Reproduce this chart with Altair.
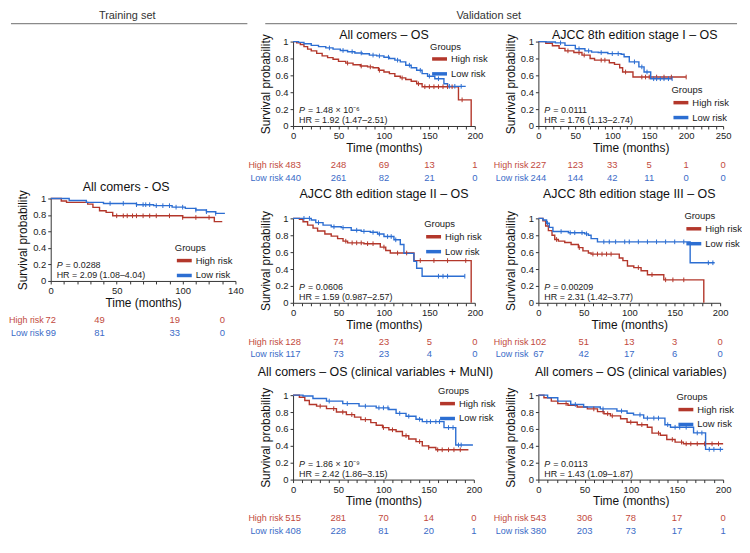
import altair as alt
import pandas as pd

FONT = "Liberation Sans"
RED = "#B3372B"
BLUE = "#2C6ED2"
RED_TXT = "#C24A3D"
BLUE_TXT = "#3A6BC7"
GROUPS = ["High risk", "Low risk"]

# ---------------- Training set: All comers - OS ----------------
tr_hi_t = [0, 8, 12, 28, 32, 37, 42, 47, 100, 124, 130]
tr_hi_s = [1.0, 0.97, 0.953, 0.932, 0.893, 0.852, 0.832, 0.79, 0.77, 0.72, 0.72]
tr_lo_t = [0, 14, 27, 40, 65, 78, 92, 102, 110, 118, 125, 132]
tr_lo_s = [1.0, 0.975, 0.953, 0.94, 0.925, 0.913, 0.895, 0.88, 0.86, 0.84, 0.82, 0.82]
tr_hi_c = [50, 55, 58, 62, 65, 70, 75, 80, 90, 100, 110, 120]
tr_lo_c = [45, 55, 65, 70, 72, 75, 80, 85, 90, 95, 100, 110, 118, 125]
tr_risk_t = [0, 37, 94, 130]
tr_risk_hi = [72, 49, 19, 0]
tr_risk_lo = [99, 81, 33, 0]

# ---------------- Validation: All comers - OS ----------------
ac_hi_t = [0, 4, 8, 12, 16, 20, 26, 32, 38, 44, 50, 58, 66, 74, 82, 88, 94, 100, 106, 112, 118, 124, 130, 136, 142, 182, 196]
ac_hi_s = [1.0, 0.985, 0.965, 0.94, 0.91, 0.89, 0.86, 0.83, 0.81, 0.79, 0.765, 0.745, 0.725, 0.71, 0.70, 0.69, 0.66, 0.64, 0.62, 0.59, 0.57, 0.55, 0.53, 0.50, 0.465, 0.31, 0.0]
ac_lo_t = [0, 6, 12, 20, 28, 36, 44, 52, 60, 68, 76, 84, 92, 100, 106, 112, 118, 124, 130, 136, 142, 148, 156, 166, 170, 190]
ac_lo_s = [1.0, 0.99, 0.975, 0.955, 0.94, 0.925, 0.91, 0.895, 0.88, 0.865, 0.855, 0.84, 0.83, 0.815, 0.80, 0.78, 0.76, 0.72, 0.69, 0.66, 0.62, 0.59, 0.56, 0.50, 0.47, 0.47]
ac_hi_c = [60, 75, 85, 95, 120, 138, 145, 150, 155, 160, 165, 170, 175, 186]
ac_lo_c = [40, 55, 65, 75, 88, 95, 105, 115, 128, 140, 150, 160, 172, 178, 185]
ac_risk_t = [0, 50, 100, 150, 200]
ac_risk_hi = [483, 248, 69, 13, 1]
ac_risk_lo = [440, 261, 82, 21, 0]

# ---------------- Stage I ----------------
s1_hi_t = [0, 10, 19, 28, 36, 48, 59, 70, 76, 96, 103, 110, 114, 128, 200]
s1_hi_s = [1.0, 0.98, 0.95, 0.92, 0.89, 0.87, 0.84, 0.80, 0.78, 0.75, 0.73, 0.69, 0.64, 0.58, 0.58]
s1_lo_t = [0, 10, 23, 36, 50, 63, 72, 81, 94, 112, 116, 123, 136, 143, 152, 181]
s1_lo_s = [1.0, 0.995, 0.985, 0.955, 0.915, 0.89, 0.875, 0.87, 0.857, 0.85, 0.82, 0.76, 0.70, 0.64, 0.56, 0.56]
s1_hi_c = [40, 55, 62, 85, 90, 118, 140, 145, 150, 160, 170, 180, 200]
s1_lo_c = [30, 55, 68, 85, 100, 108, 130, 140, 147, 156, 160, 165, 170, 176, 181]
s1_risk_t = [0, 50, 100, 150, 200, 250]
s1_risk_hi = [227, 123, 33, 5, 1, 0]
s1_risk_lo = [244, 144, 42, 11, 0, 0]

# ---------------- Stage II ----------------
s2_hi_t = [0, 7, 11, 16, 22, 27, 35, 42, 49, 55, 60, 78, 96, 102, 107, 133, 196]
s2_hi_s = [1.0, 0.99, 0.96, 0.92, 0.885, 0.85, 0.815, 0.79, 0.76, 0.73, 0.71, 0.70, 0.66, 0.62, 0.59, 0.50, 0.0]
s2_lo_t = [0, 20, 25, 33, 42, 53, 64, 75, 85, 93, 100, 111, 118, 122, 133, 136, 142, 189]
s2_lo_s = [1.0, 0.98, 0.95, 0.92, 0.90, 0.89, 0.86, 0.846, 0.835, 0.815, 0.785, 0.746, 0.69, 0.585, 0.49, 0.41, 0.315, 0.315]
s2_hi_c = [58, 65, 70, 75, 82, 88, 100, 115, 125, 140, 155, 170, 190]
s2_lo_c = [12, 18, 28, 45, 55, 70, 78, 88, 95, 104, 108, 113, 160, 165, 170, 189]
s2_risk_t = [0, 50, 100, 150, 200]
s2_risk_hi = [128, 74, 23, 5, 0]
s2_risk_lo = [117, 73, 23, 4, 0]

# ---------------- Stage III ----------------
s3_hi_t = [0, 5, 8, 11, 15, 18, 22, 29, 36, 44, 49, 55, 58, 89, 93, 98, 105, 113, 120, 138, 182]
s3_hi_s = [1.0, 0.97, 0.91, 0.855, 0.80, 0.75, 0.73, 0.714, 0.69, 0.653, 0.615, 0.59, 0.577, 0.53, 0.50, 0.436, 0.417, 0.379, 0.333, 0.272, 0.0]
s3_lo_t = [0, 5, 9, 12, 16, 33, 51, 55, 58, 65, 167, 194]
s3_lo_s = [1.0, 0.98, 0.943, 0.893, 0.844, 0.83, 0.817, 0.80, 0.76, 0.722, 0.474, 0.474]
s3_hi_c = [20, 45, 60, 65, 70, 75, 80, 110, 125, 140, 148, 160]
s3_lo_c = [10, 25, 35, 40, 48, 53, 72, 78, 85, 95, 100, 110, 120, 130, 140, 150, 160, 187, 192]
s3_risk_t = [0, 50, 100, 150, 200]
s3_risk_hi = [102, 51, 13, 3, 0]
s3_risk_lo = [67, 42, 17, 6, 0]

# ---------------- Clinical variables + MuNI ----------------
cm_hi_t = [0, 7, 13, 18, 26, 37, 48, 59, 68, 75, 86, 92, 99, 106, 114, 121, 128, 136, 143, 150, 158, 194]
cm_hi_s = [1.0, 0.976, 0.937, 0.89, 0.87, 0.84, 0.80, 0.77, 0.74, 0.71, 0.675, 0.643, 0.616, 0.59, 0.57, 0.52, 0.48, 0.45, 0.40, 0.38, 0.353, 0.353]
cm_lo_t = [0, 11, 22, 37, 55, 73, 92, 106, 114, 125, 136, 143, 167, 180, 199]
cm_lo_s = [1.0, 0.99, 0.96, 0.93, 0.90, 0.87, 0.85, 0.83, 0.784, 0.75, 0.714, 0.686, 0.616, 0.41, 0.41]
cm_hi_c = [30, 45, 55, 65, 80, 100, 110, 125, 140, 150, 160, 165, 172, 178, 185]
cm_lo_c = [40, 60, 80, 95, 100, 105, 118, 128, 140, 148, 152, 158, 162, 172, 177, 183, 186]
cm_risk_t = [0, 50, 100, 150, 200]
cm_risk_hi = [515, 281, 70, 14, 0]
cm_risk_lo = [408, 228, 81, 20, 1]

# ---------------- Clinical variables ----------------
cv_hi_t = [0, 6, 14, 21, 32, 42, 53, 64, 71, 78, 89, 96, 107, 118, 123, 132, 139, 148, 157, 200]
cv_hi_s = [1.0, 0.97, 0.93, 0.90, 0.88, 0.86, 0.837, 0.805, 0.78, 0.755, 0.72, 0.68, 0.65, 0.62, 0.55, 0.525, 0.475, 0.444, 0.424, 0.424]
cv_lo_t = [0, 10, 21, 35, 49, 67, 85, 96, 103, 114, 137, 143, 168, 181, 200]
cv_lo_s = [1.0, 0.97, 0.93, 0.89, 0.86, 0.837, 0.813, 0.786, 0.767, 0.728, 0.65, 0.62, 0.553, 0.358, 0.358]
cv_hi_c = [30, 60, 70, 75, 80, 100, 112, 130, 145, 155, 160, 165, 172, 180, 188, 195]
cv_lo_c = [40, 70, 90, 110, 118, 125, 130, 140, 148, 153, 160, 172, 177, 185, 190, 197]
cv_risk_t = [0, 50, 100, 150, 200]
cv_risk_hi = [543, 306, 78, 17, 0]
cv_risk_lo = [380, 203, 73, 17, 1]

CELL_H = 85


def surv_at(ts, ss, c):
    v = ss[0]
    for t, s in zip(ts, ss):
        if t <= c:
            v = s
    return v


def km_panel(title, hi_t, hi_s, lo_t, lo_s, hi_c, lo_c, risk_t, risk_hi, risk_lo,
             p_txt, hr_txt, xmax, xlabels, width, leg_x, leg_y, title_offset,
             title_dx=0, plot_w=None, plot_top=0, plot_h=CELL_H, lab_dx=-10):
    plot_w = plot_w or width
    bottom = plot_top + plot_h
    curve_df = pd.DataFrame({
        "t": hi_t + lo_t,
        "s": hi_s + lo_s,
        "group": ["High risk"] * len(hi_t) + ["Low risk"] * len(lo_t),
    })
    rows = []
    for g, ts, ss, cs in (("High risk", hi_t, hi_s, hi_c), ("Low risk", lo_t, lo_s, lo_c)):
        for c in cs:
            rows.append({"t": c, "s": surv_at(ts, ss, c), "group": g})
    cens_df = pd.DataFrame(rows)

    x_enc = alt.X(
        "t:Q",
        scale=alt.Scale(domain=[0, xmax], nice=False, zero=False, range=[0, plot_w]),
        axis=alt.Axis(
            title="Time (months)",
            values=list(range(0, xmax + 1, 10)),
            labelExpr=f"indexof({xlabels}, datum.value) >= 0 ? datum.label : ''",
            labelOverlap=False, labelFlush=False, tickSize=3, titlePadding=2,
            offset=bottom - CELL_H,
        ),
    )
    y_enc = alt.Y(
        "s:Q",
        scale=alt.Scale(domain=[0, 1], nice=False, range=[bottom, plot_top]),
        axis=alt.Axis(
            title="Survival probability", values=[0, 0.2, 0.4, 0.6, 0.8, 1],
            format="~g", tickSize=3, titlePadding=3, labelOverlap=False, labelFlush=False,
        ),
    )
    color = alt.Color(
        "group:N",
        scale=alt.Scale(domain=GROUPS, range=[RED, BLUE]),
        legend=alt.Legend(
            title="Groups", orient="none", legendX=leg_x, legendY=leg_y,
            symbolType="M-1,0H2", symbolSize=100, symbolStrokeWidth=3.5,
            labelOffset=7, rowPadding=1, titlePadding=1, padding=0,
            titleFontSize=9.5, labelFontSize=9.5, titleFontWeight="normal",
            titleFont=FONT, labelFont=FONT, titleColor="#222", labelColor="#222",
        ),
    )

    lines = alt.Chart(curve_df).mark_line(interpolate="step-after", strokeWidth=1.4).encode(
        x=x_enc, y=y_enc, color=color)
    cens = alt.Chart(cens_df).mark_point(
        shape="M0,-1L0,1", size=22, strokeWidth=1, filled=False, opacity=1
    ).encode(x=x_enc, y=y_enc, color=color)

    risk_hi_df = pd.DataFrame({"t": risk_t, "n": [str(v) for v in risk_hi]})
    risk_lo_df = pd.DataFrame({"t": risk_t, "n": [str(v) for v in risk_lo]})
    r_hi = alt.Chart(risk_hi_df).mark_text(fontSize=9.5, color=RED_TXT, baseline="middle").encode(
        x=x_enc, y=alt.value(bottom + 39), text="n:N")
    r_lo = alt.Chart(risk_lo_df).mark_text(fontSize=9.5, color=BLUE_TXT, baseline="middle").encode(
        x=x_enc, y=alt.value(bottom + 52), text="n:N")
    lab_hi = alt.Chart(pd.DataFrame({"label": ["High risk"]})).mark_text(
        fontSize=9, color=RED_TXT, align="right", baseline="middle"
    ).encode(x=alt.value(lab_dx), y=alt.value(bottom + 39), text="label:N")
    lab_lo = alt.Chart(pd.DataFrame({"label": ["Low risk"]})).mark_text(
        fontSize=9, color=BLUE_TXT, align="right", baseline="middle"
    ).encode(x=alt.value(lab_dx), y=alt.value(bottom + 52), text="label:N")

    ann_df = pd.DataFrame({"p": ["P"], "pv": ["= " + p_txt], "hr": [hr_txt]})
    p_it = alt.Chart(ann_df).mark_text(fontSize=9, fontStyle="italic", align="left",
                                       baseline="middle", color="#222").encode(
        x=alt.value(6), y=alt.value(bottom - 16), text="p:N")
    p_val = alt.Chart(ann_df).mark_text(fontSize=9, align="left", baseline="middle",
                                        dx=9, color="#222").encode(
        x=alt.value(6), y=alt.value(bottom - 16), text="pv:N")
    hr = alt.Chart(ann_df).mark_text(fontSize=9, align="left", baseline="middle",
                                     color="#222").encode(
        x=alt.value(6), y=alt.value(bottom - 6), text="hr:N")

    return alt.layer(lines, cens, r_hi, r_lo, lab_hi, lab_lo, p_it, p_val, hr).properties(
        width=width, height=CELL_H,
        title=alt.Title(title, fontSize=12.5, offset=title_offset, anchor="middle",
                        frame="group", dx=title_dx, font=FONT, fontWeight="normal", color="#111"),
    )


train = km_panel("All comers - OS", tr_hi_t, tr_hi_s, tr_lo_t, tr_lo_s, tr_hi_c, tr_lo_c,
                 tr_risk_t, tr_risk_hi, tr_risk_lo, "0.0288", "HR = 2.09 (1.08–4.04)",
                 140, [0, 50, 100, 140], 180, 125, 25, -4, -14,
                 plot_w=186, plot_top=-20, plot_h=83, lab_dx=-7)
p1 = km_panel("All comers – OS", ac_hi_t, ac_hi_s, ac_lo_t, ac_lo_s, ac_hi_c, ac_lo_c,
              ac_risk_t, ac_risk_hi, ac_risk_lo, "1.48 × 10⁻⁶", "HR = 1.92 (1.47–2.51)",
              200, [0, 50, 100, 150, 200], 183, 138, 0, -8)
p2 = km_panel("AJCC 8th edition stage I – OS", s1_hi_t, s1_hi_s, s1_lo_t, s1_lo_s, s1_hi_c, s1_lo_c,
              s1_risk_t, s1_risk_hi, s1_risk_lo, "0.0111", "HR = 1.76 (1.13–2.74)",
              250, [0, 50, 100, 150, 200, 250], 186, 134, 44, -8, 4)
p3 = km_panel("AJCC 8th edition stage II – OS", s2_hi_t, s2_hi_s, s2_lo_t, s2_lo_s, s2_hi_c, s2_lo_c,
              s2_risk_t, s2_risk_hi, s2_risk_lo, "0.0606", "HR = 1.59 (0.987–2.57)",
              200, [0, 50, 100, 150, 200], 183, 132, 1, 10)
p4 = km_panel("AJCC 8th edition stage III – OS", s3_hi_t, s3_hi_s, s3_lo_t, s3_lo_s, s3_hi_c, s3_lo_c,
              s3_risk_t, s3_risk_hi, s3_risk_lo, "0.00209", "HR = 2.31 (1.42–3.77)",
              200, [0, 50, 100, 150, 200], 183, 147, -7, 10)
p5 = km_panel("All comers – OS (clinical variables + MuNI)", cm_hi_t, cm_hi_s, cm_lo_t, cm_lo_s,
              cm_hi_c, cm_lo_c, cm_risk_t, cm_risk_hi, cm_risk_lo, "1.86 × 10⁻⁹",
              "HR = 2.42 (1.86–3.15)", 200, [0, 50, 100, 150, 200], 182, 146, -9, 8, -8)
p6 = km_panel("All comers – OS (clinical variables)", cv_hi_t, cv_hi_s, cv_lo_t, cv_lo_s,
              cv_hi_c, cv_lo_c, cv_risk_t, cv_risk_hi, cv_risk_lo, "0.0113",
              "HR = 1.43 (1.09–1.87)", 200, [0, 50, 100, 150, 200], 186, 139, -3, 9)

# header cell (top-left grid cell) holding both section headers
hdr_df = pd.DataFrame({"train": ["Training set"], "val": ["Validation set"]})
hdr_t1 = alt.Chart(hdr_df).mark_text(fontSize=11, color="#333", baseline="middle").encode(
    x=alt.value(77), y=alt.value(-26), text="train:N")
hdr_t2 = alt.Chart(hdr_df).mark_text(fontSize=11, color="#333", baseline="middle").encode(
    x=alt.value(441), y=alt.value(-26), text="val:N")
hdr_r1 = alt.Chart(hdr_df).mark_rule(color="#8a8a8a", strokeWidth=1.3).encode(
    x=alt.value(-40), x2=alt.value(198), y=alt.value(-18))
hdr_r2 = alt.Chart(hdr_df).mark_rule(color="#8a8a8a", strokeWidth=1.3).encode(
    x=alt.value(216), x2=alt.value(691), y=alt.value(-18))
header_cell = alt.layer(hdr_t1, hdr_t2, hdr_r1, hdr_r2).properties(width=180, height=CELL_H)

empty_cell = alt.Chart(pd.DataFrame({"label": [""]})).mark_text().encode(
    x=alt.value(0), y=alt.value(0), text="label:N").properties(width=180, height=CELL_H)

chart = alt.concat(
    header_cell, p1, p2,
    train, p3, p4,
    empty_cell, p5, p6,
    columns=3, bounds="flush", spacing={"row": 93, "column": 64},
).resolve_scale(
    x="independent", y="independent", color="independent"
).resolve_legend(color="independent").properties(padding=0).configure(
    font=FONT).configure_view(stroke=None).configure_axis(
    grid=False, domainColor="#333", tickColor="#333", labelColor="#222",
    labelFont=FONT, titleFont=FONT, labelFontSize=9.5, titleFontSize=12,
    titleFontWeight="normal", titleColor="#111", labelPadding=2, domainWidth=1,
).configure_text(font=FONT)

chart.save("out.html", embed_options={"renderer": "svg", "actions": False})
